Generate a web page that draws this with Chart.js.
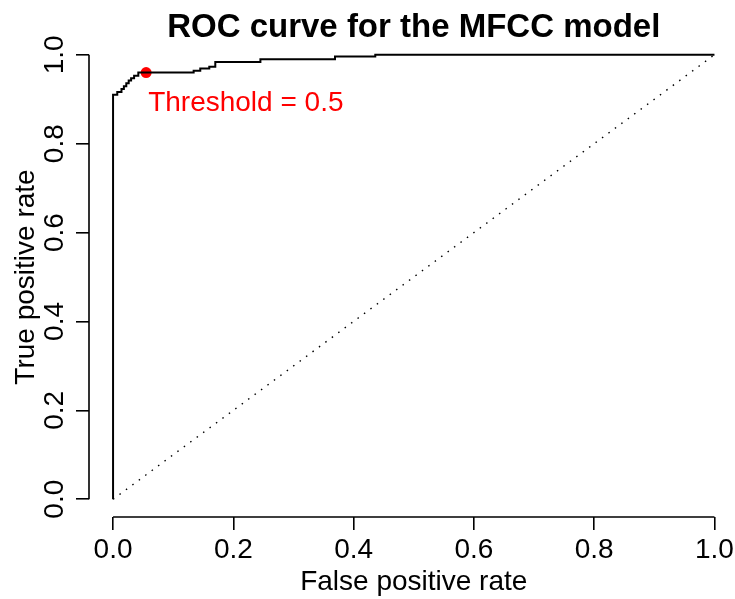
<!DOCTYPE html>
<html><head><meta charset="utf-8">
<script src="https://cdn.jsdelivr.net/npm/chart.js@4"></script>
<style>html,body{margin:0;padding:0;background:#fff;overflow:hidden}</style>
</head><body>
<canvas id="c" width="735" height="599"></canvas>
<script>
// ROC curve corner points (false positive rate, true positive rate)
const fpr = [0, 0, 0.007, 0.007, 0.014, 0.014, 0.018, 0.018, 0.022, 0.022, 0.026, 0.026, 0.030, 0.030, 0.035, 0.035, 0.042, 0.042, 0.134, 0.134, 0.145, 0.145, 0.160, 0.160, 0.170, 0.170, 0.245, 0.245, 0.369, 0.369, 0.436, 0.436, 1.0];
const tpr = [0, 0.910, 0.910, 0.916, 0.916, 0.923, 0.923, 0.929, 0.929, 0.936, 0.936, 0.942, 0.942, 0.947, 0.947, 0.953, 0.953, 0.960, 0.960, 0.964, 0.964, 0.969, 0.969, 0.973, 0.973, 0.984, 0.984, 0.990, 0.990, 0.996, 0.996, 1.0, 1.0];
const diagX = [0, 1];
const diagY = [0, 1];
const thrX = [0.055];
const thrY = [0.960];
const thrLabel = 'Threshold = 0.5';
const tickValues = [0, 0.2, 0.4, 0.6, 0.8, 1.0];
const titleText = 'ROC curve for the MFCC model';
const xTitle = 'False positive rate';
const yTitle = 'True positive rate';

const FONT = '"Liberation Sans", Arial, Helvetica, sans-serif';
const toXY = (xs, ys) => xs.map((v, i) => ({x: v, y: ys[i]}));

const deco = {
  id: 'deco',
  afterDraw(chart) {
    const {ctx, scales: {x, y}, chartArea} = chart;
    ctx.save();
    ctx.strokeStyle = '#000';
    ctx.lineWidth = 1.6;
    ctx.beginPath();
    const yb = chartArea.bottom;
    ctx.moveTo(x.getPixelForValue(tickValues[0]), yb);
    ctx.lineTo(x.getPixelForValue(tickValues[tickValues.length - 1]), yb);
    const xl = chartArea.left;
    ctx.moveTo(xl, y.getPixelForValue(tickValues[0]));
    ctx.lineTo(xl, y.getPixelForValue(tickValues[tickValues.length - 1]));
    ctx.stroke();

    ctx.fillStyle = '#000';
    ctx.textAlign = 'center';
    ctx.textBaseline = 'alphabetic';
    ctx.font = 'bold 33px ' + FONT;
    ctx.fillText(titleText, x.getPixelForValue(0.5), 37);
    ctx.font = '28px ' + FONT;
    ctx.fillText(xTitle, x.getPixelForValue(0.5), 590);
    ctx.save();
    ctx.translate(33.5, y.getPixelForValue(0.5));
    ctx.rotate(-Math.PI / 2);
    ctx.fillText(yTitle, 0, 0);
    ctx.restore();

    ctx.fillStyle = '#ff0000';
    ctx.textAlign = 'left';
    ctx.fillText(thrLabel, x.getPixelForValue(thrX[0]) + 2, y.getPixelForValue(thrY[0]) + 38);
    ctx.restore();
  }
};

const setTicks = s => { s.ticks = tickValues.map(v => ({value: v})); };

new Chart(document.getElementById('c'), {
  type: 'scatter',
  data: {
    datasets: [
      {
        data: toXY(fpr, tpr),
        showLine: true,
        borderColor: '#000',
        borderWidth: 2,
        pointRadius: 0,
        fill: false,
        tension: 0
      },
      {
        data: toXY(diagX, diagY),
        showLine: true,
        borderColor: '#000',
        borderWidth: 1.4,
        borderDash: [1.5, 6.5],
        pointRadius: 0,
        fill: false
      },
      {
        data: toXY(thrX, thrY),
        showLine: false,
        pointRadius: 5.5,
        pointBackgroundColor: '#ff0000',
        pointBorderColor: '#ff0000',
        pointBorderWidth: 0
      }
    ]
  },
  options: {
    responsive: false,
    animation: false,
    events: [],
    layout: {padding: {top: 37, right: 0, bottom: 0, left: 0}},
    plugins: {legend: {display: false}, tooltip: {enabled: false}, title: {display: false}},
    scales: {
      x: {
        type: 'linear',
        min: -0.04,
        max: 1.025,
        afterBuildTicks: setTicks,
        afterFit: s => { s.height = 82; s.paddingLeft = 0; s.paddingRight = 0; },
        border: {display: false},
        grid: {display: true, drawOnChartArea: false, drawTicks: true, tickLength: 13, color: '#000', lineWidth: 1.6},
        ticks: {
          autoSkip: false, maxRotation: 0, minRotation: 0, padding: 3,
          color: '#000', font: {family: FONT, size: 28},
          callback: v => Number(v).toFixed(1)
        }
      },
      y: {
        type: 'linear',
        min: -0.04,
        max: 1.04,
        afterBuildTicks: setTicks,
        afterFit: s => { s.width = 89; s.paddingTop = 0; s.paddingBottom = 0; },
        border: {display: false},
        grid: {display: true, drawOnChartArea: false, drawTicks: true, tickLength: 13, color: '#000', lineWidth: 1.6},
        ticks: {
          autoSkip: false, minRotation: 90, maxRotation: 90, crossAlign: 'center', padding: 1,
          color: '#000', font: {family: FONT, size: 28},
          callback: v => Number(v).toFixed(1)
        }
      }
    }
  },
  plugins: [deco]
});
</script>
</body></html>
